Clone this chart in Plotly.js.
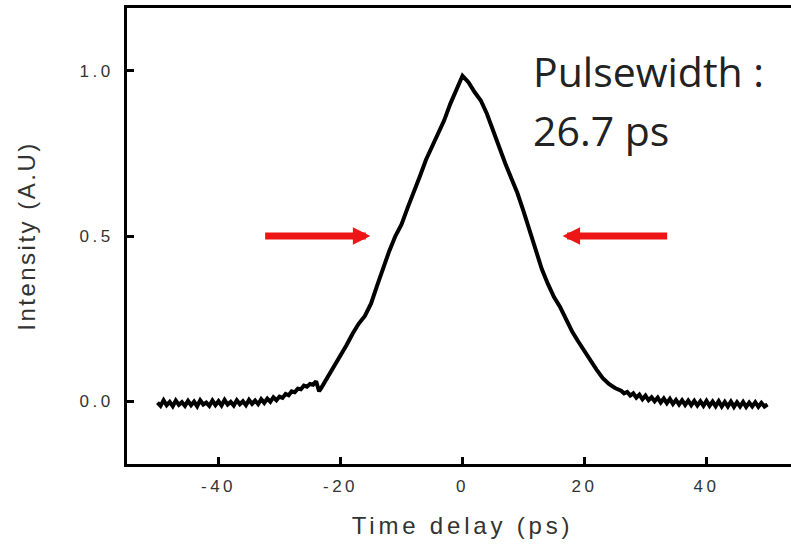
<!DOCTYPE html>
<html>
<head>
<meta charset="utf-8">
<script src="https://cdn.plot.ly/plotly-3.0.1.min.js"></script>
<style>
html, body { margin: 0; padding: 0; overflow: hidden; background: #fff; }
#chart { width: 800px; height: 551px; }
.xtick text, .ytick text { letter-spacing: 3.5px; }
text.xtitle { letter-spacing: 3.8px; }
text.ytitle { letter-spacing: 2.5px; }
</style>
</head>
<body>
<div id="chart"></div>
<script>
// Time delay (ps)
const timeDelay = [
  -50,-49.5,-49,-48.5,-48,-47.5,-47,-46.5,-46,-45.5,-45,-44.5,-44,-43.5,-43,-42.5,-42,-41.5,-41,-40.5,
  -40,-39.5,-39,-38.5,-38,-37.5,-37,-36.5,-36,-35.5,-35,-34.5,-34,-33.5,-33,-32.5,-32,-31.5,-31,-30.5,
  -30,-29.5,-29,-28.5,-28,-27.5,-27,-26.5,-26,-25.5,-25,-24.5,-24,-23.5,-23,
  -22,-21,-20,-19,-18,-17,-16,-15,-14,-13,-12,-11,-10,-9,-8,-7,-6,-5,-4,-3,-2,-1,0,0.5,1,
  2,3,4,5,6,7,8,9,10,11,12,13,14,15,16,17,18,19,20,21,22,23,24,25,
  26,26.5,27,27.5,28,28.5,29,29.5,30,30.5,31,31.5,32,32.5,33,33.5,34,34.5,35,35.5,
  36,36.5,37,37.5,38,38.5,39,39.5,40,40.5,41,41.5,42,42.5,43,43.5,44,44.5,45,45.5,
  46,46.5,47,47.5,48,48.5,49,49.5,50
];
// Intensity (A.U)
const intensity = [
  -0.004,-0.014,0.003,-0.012,-0.002,-0.015,0.002,-0.011,-0.003,-0.014,0.001,-0.012,-0.001,-0.015,0.003,-0.010,-0.004,-0.014,0.002,-0.012,
  0.000,-0.013,0.004,-0.010,-0.002,-0.013,0.003,-0.009,0.000,-0.012,0.004,-0.008,0.002,-0.009,0.006,-0.005,0.008,-0.002,0.012,0.003,
  0.014,0.010,0.022,0.018,0.030,0.027,0.038,0.036,0.047,0.044,0.052,0.050,0.060,0.030,0.045,
  0.075,0.105,0.135,0.170,0.205,0.235,0.258,0.295,0.350,0.405,0.455,0.500,0.535,0.585,0.630,0.680,0.730,0.770,0.815,0.850,0.900,0.945,0.985,0.975,0.965,
  0.935,0.910,0.870,0.820,0.765,0.720,0.675,0.630,0.575,0.515,0.450,0.400,0.355,0.315,0.285,0.245,0.210,0.180,0.150,0.120,0.095,0.070,0.052,0.040,
  0.032,0.024,0.028,0.017,0.024,0.011,0.020,0.006,0.017,0.003,0.012,0.000,0.011,-0.004,0.008,-0.006,0.007,-0.008,0.004,-0.010,
  0.003,-0.011,0.002,-0.012,0.001,-0.013,0.000,-0.014,0.001,-0.014,-0.001,-0.015,0.000,-0.016,-0.002,-0.016,-0.001,-0.017,-0.003,-0.016,
  -0.002,-0.017,-0.004,-0.016,-0.003,-0.017,-0.005,-0.016,-0.010
];
const xTickVals = [-40, -20, 0, 20, 40];
const xTickLabels = ['-40', '-20', '0', '20', '40'];
const yTickVals = [0, 0.5, 1.0];
const yTickLabels = ['0.0', '0.5', '1.0'];
// FWHM arrows: [tail x, head x] at half maximum
const arrowLeft = [-32.6, -15.1];
const arrowRight = [33.8, 16.4];
const halfMax = 0.5;
const labelLine1 = 'Pulsewidth :';
const labelLine2 = '26.7 ps';

const trace = {
  x: timeDelay,
  y: intensity,
  type: 'scatter',
  mode: 'lines',
  line: { color: '#000', width: 4 },
  hoverinfo: 'skip'
};

const red = 'rgb(236,22,22)';
const layout = {
  width: 800,
  height: 551,
  margin: { l: 127, r: 2, t: 8, b: 87 },
  paper_bgcolor: '#fff',
  plot_bgcolor: '#fff',
  showlegend: false,
  font: { family: 'Liberation Sans, Arial, sans-serif', color: '#333' },
  xaxis: {
    range: [-55, 55],
    showgrid: false, zeroline: false,
    showline: true, linecolor: '#000', linewidth: 3, mirror: true,
    ticks: 'inside', ticklen: 7, tickwidth: 3, tickcolor: '#000',
    tickvals: xTickVals, ticktext: xTickLabels,
    tickfont: { size: 17, color: '#333' },
    ticklabelstandoff: 5,
    title: { text: 'Time delay (ps)', font: { size: 24, color: '#333' }, standoff: 22 }
  },
  yaxis: {
    range: [-0.19, 1.19],
    showgrid: false, zeroline: false,
    showline: true, linecolor: '#000', linewidth: 3, mirror: true,
    ticks: 'inside', ticklen: 7, tickwidth: 3, tickcolor: '#000',
    tickvals: yTickVals, ticktext: yTickLabels,
    tickfont: { size: 17, color: '#333' },
    ticklabelstandoff: 7,
    title: { text: 'Intensity (A.U)', font: { size: 24, color: '#333' }, standoff: 38 }
  },
  annotations: [
    {
      x: arrowLeft[1], y: halfMax, ax: arrowLeft[0], ay: halfMax,
      xref: 'x', yref: 'y', axref: 'x', ayref: 'y',
      showarrow: true, arrowhead: 2, arrowsize: 0.5, arrowwidth: 7, arrowcolor: red, text: ''
    },
    {
      x: arrowRight[1], y: halfMax, ax: arrowRight[0], ay: halfMax,
      xref: 'x', yref: 'y', axref: 'x', ayref: 'y',
      showarrow: true, arrowhead: 2, arrowsize: 0.5, arrowwidth: 7, arrowcolor: red, text: ''
    },
    {
      x: 11.3, y: 1.0, xref: 'x', yref: 'y', xanchor: 'left', yanchor: 'middle',
      showarrow: false, text: labelLine1,
      font: { family: 'Open Sans, sans-serif', size: 41, color: '#222' }
    },
    {
      x: 11.3, y: 0.822, xref: 'x', yref: 'y', xanchor: 'left', yanchor: 'middle',
      showarrow: false, text: labelLine2,
      font: { family: 'Open Sans, sans-serif', size: 41, color: '#222' }
    }
  ]
};

Plotly.newPlot('chart', [trace], layout, { displayModeBar: false, staticPlot: true });
</script>
</body>
</html>
